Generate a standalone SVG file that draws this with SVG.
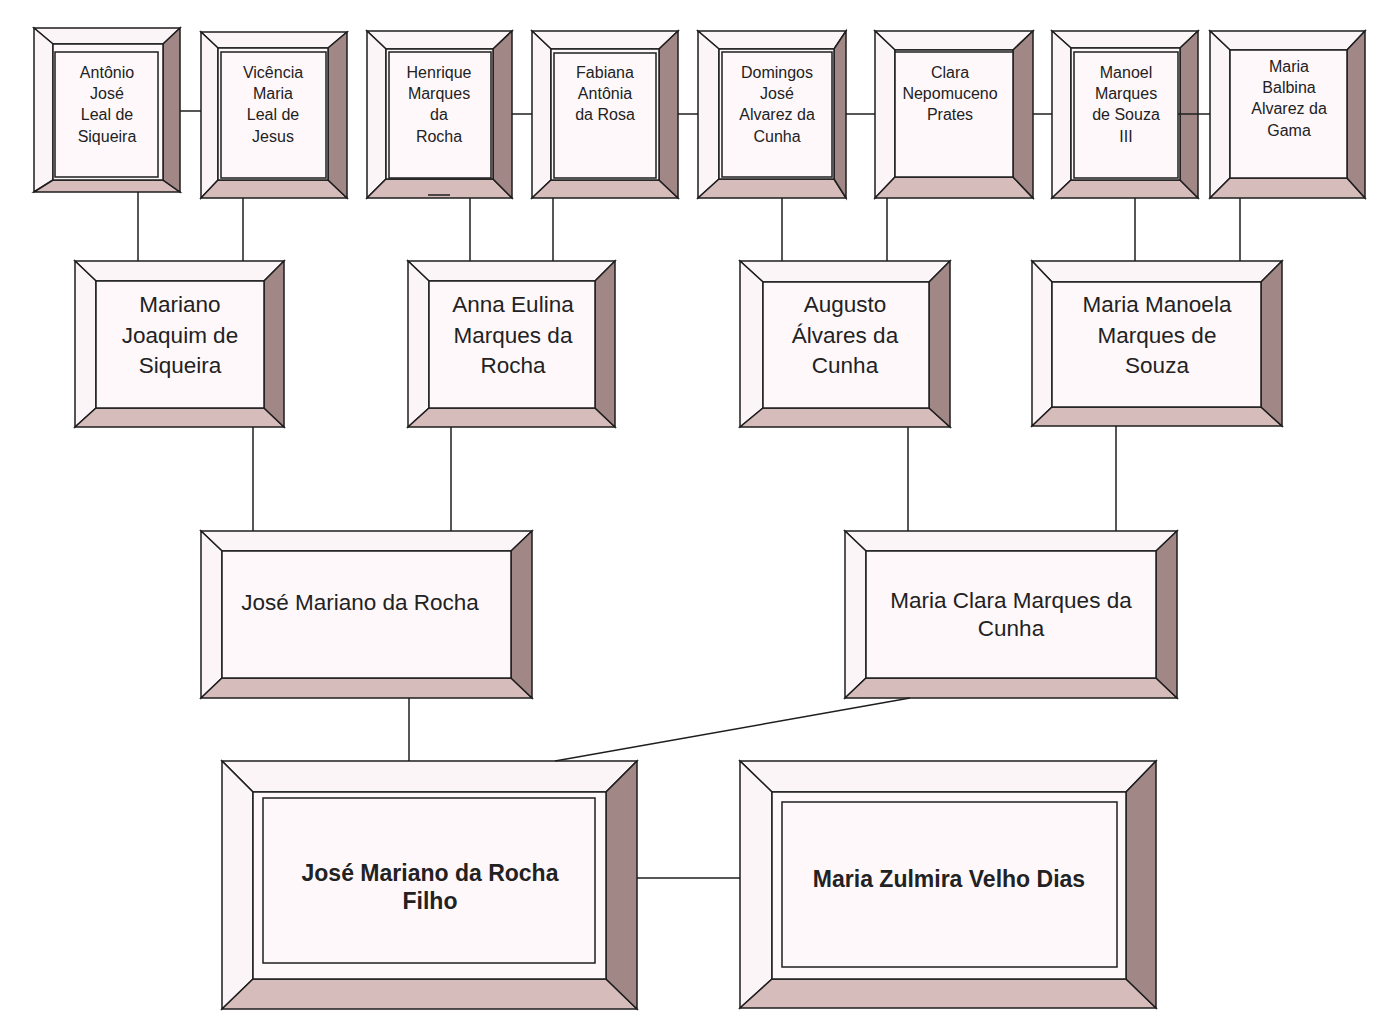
<svg xmlns="http://www.w3.org/2000/svg" width="1380" height="1034" viewBox="0 0 1380 1034">
<style>
.bt,.bl{fill:#fcf5f7;stroke:#1e1e1e;stroke-width:1.5;stroke-linejoin:miter}
.bb{fill:#d6bcba;stroke:#1e1e1e;stroke-width:1.5}
.br{fill:#a28787;stroke:#1e1e1e;stroke-width:1.5}
.face{fill:#fff8fb;stroke:#1e1e1e;stroke-width:1.5}
.inner{fill:none;stroke:#1e1e1e;stroke-width:1.5}
.c{stroke:#1e1e1e;stroke-width:1.5;fill:none}
text{font-family:"Liberation Sans",Arial,sans-serif;fill:#222;text-anchor:middle}
.s{font-size:16px}
.m{font-size:22.5px}
.b{font-size:23px;font-weight:bold}
</style>
<rect width="1380" height="1034" fill="#ffffff"/>

<g id="n-antonio">
<polygon class="bt" points="34,28 180,28 163,44 53,44"/>
<polygon class="bl" points="34,28 53,44 53,180 34,192"/>
<polygon class="bb" points="34,192 53,180 163,180 180,192"/>
<polygon class="br" points="180,28 180,192 163,180 163,44"/>
<rect class="face" x="53" y="44" width="110" height="136"/>
<rect class="inner" x="55" y="52" width="103" height="125"/>
<text class="s" x="107" y="78">Antônio</text>
<text class="s" x="107" y="99">José</text>
<text class="s" x="107" y="120">Leal de</text>
<text class="s" x="107" y="142">Siqueira</text>
</g>

<g id="n-vicencia">
<polygon class="bt" points="201,32 347,32 328,48 218,48"/>
<polygon class="bl" points="201,32 218,48 218,180 201,198"/>
<polygon class="bb" points="201,198 218,180 328,180 347,198"/>
<polygon class="br" points="347,32 347,198 328,180 328,48"/>
<rect class="face" x="218" y="48" width="110" height="132"/>
<rect class="inner" x="221" y="52" width="105" height="126"/>
<text class="s" x="273" y="78">Vicência</text>
<text class="s" x="273" y="99">Maria</text>
<text class="s" x="273" y="120">Leal de</text>
<text class="s" x="273" y="142">Jesus</text>
</g>

<g id="n-henrique">
<polygon class="bt" points="367,31 512,31 493,49 386,49"/>
<polygon class="bl" points="367,31 386,49 386,179 367,198"/>
<polygon class="bb" points="367,198 386,179 493,179 512,198"/>
<polygon class="br" points="512,31 512,198 493,179 493,49"/>
<rect class="face" x="386" y="49" width="107" height="130"/>
<rect class="inner" x="389" y="52" width="102" height="126"/>
<line class="c" x1="428" y1="195" x2="450" y2="195"/>
<text class="s" x="439" y="78">Henrique</text>
<text class="s" x="439" y="99">Marques</text>
<text class="s" x="439" y="120">da</text>
<text class="s" x="439" y="142">Rocha</text>
</g>

<g id="n-fabiana">
<polygon class="bt" points="532,31 678,31 659,49 551,49"/>
<polygon class="bl" points="532,31 551,49 551,180 532,198"/>
<polygon class="bb" points="532,198 551,180 659,180 678,198"/>
<polygon class="br" points="678,31 678,198 659,180 659,49"/>
<rect class="face" x="551" y="49" width="108" height="131"/>
<rect class="inner" x="554" y="53" width="102" height="125"/>
<text class="s" x="605" y="78">Fabiana</text>
<text class="s" x="605" y="99">Antônia</text>
<text class="s" x="605" y="120">da Rosa</text>
</g>

<g id="n-domingos">
<polygon class="bt" points="698,31 846,31 834,49 719,49"/>
<polygon class="bl" points="698,31 719,49 719,179 698,198"/>
<polygon class="bb" points="698,198 719,179 834,179 846,198"/>
<polygon class="br" points="846,31 846,198 834,179 834,49"/>
<rect class="face" x="719" y="49" width="115" height="130"/>
<rect class="inner" x="722" y="52" width="110" height="125"/>
<text class="s" x="777" y="78">Domingos</text>
<text class="s" x="777" y="99">José</text>
<text class="s" x="777" y="120">Alvarez da</text>
<text class="s" x="777" y="142">Cunha</text>
</g>

<g id="n-clara">
<polygon class="bt" points="875,31 1033,31 1013,50 895,50"/>
<polygon class="bl" points="875,31 895,50 895,177 875,198"/>
<polygon class="bb" points="875,198 895,177 1013,177 1033,198"/>
<polygon class="br" points="1033,31 1033,198 1013,177 1013,50"/>
<rect class="face" x="895" y="50" width="118" height="127"/>
<line class="c" x1="895" y1="52" x2="1013" y2="52"/>
<text class="s" x="950" y="78">Clara</text>
<text class="s" x="950" y="99">Nepomuceno</text>
<text class="s" x="950" y="120">Prates</text>
</g>

<g id="n-manoel">
<polygon class="bt" points="1052,31 1198,31 1180,48 1071,48"/>
<polygon class="bl" points="1052,31 1071,48 1071,180 1052,198"/>
<polygon class="bb" points="1052,198 1071,180 1180,180 1198,198"/>
<polygon class="br" points="1198,31 1198,198 1180,180 1180,48"/>
<rect class="face" x="1071" y="48" width="109" height="132"/>
<rect class="inner" x="1074" y="52" width="104" height="126"/>
<text class="s" x="1126" y="78">Manoel</text>
<text class="s" x="1126" y="99">Marques</text>
<text class="s" x="1126" y="120">de Souza</text>
<text class="s" x="1126" y="142">III</text>
</g>

<g id="n-balbina">
<polygon class="bt" points="1210,31 1365,31 1347,50 1230,50"/>
<polygon class="bl" points="1210,31 1230,50 1230,178 1210,198"/>
<polygon class="bb" points="1210,198 1230,178 1347,178 1365,198"/>
<polygon class="br" points="1365,31 1365,198 1347,178 1347,50"/>
<rect class="face" x="1230" y="50" width="117" height="128"/>
<text class="s" x="1289" y="72">Maria</text>
<text class="s" x="1289" y="93">Balbina</text>
<text class="s" x="1289" y="114">Alvarez da</text>
<text class="s" x="1289" y="136">Gama</text>
</g>

<g id="n-mariano">
<polygon class="bt" points="75,261 284,261 264,281 96,281"/>
<polygon class="bl" points="75,261 96,281 96,408 75,427"/>
<polygon class="bb" points="75,427 96,408 264,408 284,427"/>
<polygon class="br" points="284,261 284,427 264,408 264,281"/>
<rect class="face" x="96" y="281" width="168" height="127"/>
<text class="m" x="180" y="312">Mariano</text>
<text class="m" x="180" y="343">Joaquim de</text>
<text class="m" x="180" y="373">Siqueira</text>
</g>

<g id="n-anna">
<polygon class="bt" points="408,261 615,261 595,281 429,281"/>
<polygon class="bl" points="408,261 429,281 429,408 408,427"/>
<polygon class="bb" points="408,427 429,408 595,408 615,427"/>
<polygon class="br" points="615,261 615,427 595,408 595,281"/>
<rect class="face" x="429" y="281" width="166" height="127"/>
<text class="m" x="513" y="312">Anna Eulina</text>
<text class="m" x="513" y="343">Marques da</text>
<text class="m" x="513" y="373">Rocha</text>
</g>

<g id="n-augusto">
<polygon class="bt" points="740,261 950,261 929,282 763,282"/>
<polygon class="bl" points="740,261 763,282 763,408 740,427"/>
<polygon class="bb" points="740,427 763,408 929,408 950,427"/>
<polygon class="br" points="950,261 950,427 929,408 929,282"/>
<rect class="face" x="763" y="282" width="166" height="126"/>
<text class="m" x="845" y="312">Augusto</text>
<text class="m" x="845" y="343">Álvares da</text>
<text class="m" x="845" y="373">Cunha</text>
</g>

<g id="n-manoela">
<polygon class="bt" points="1032,261 1282,261 1261,282 1052,282"/>
<polygon class="bl" points="1032,261 1052,282 1052,407 1032,426"/>
<polygon class="bb" points="1032,426 1052,407 1261,407 1282,426"/>
<polygon class="br" points="1282,261 1282,426 1261,407 1261,282"/>
<rect class="face" x="1052" y="282" width="209" height="125"/>
<text class="m" x="1157" y="312">Maria Manoela</text>
<text class="m" x="1157" y="343">Marques de</text>
<text class="m" x="1157" y="373">Souza</text>
</g>

<g id="n-jose">
<polygon class="bt" points="201,531 532,531 511,551 222,551"/>
<polygon class="bl" points="201,531 222,551 222,678 201,698"/>
<polygon class="bb" points="201,698 222,678 511,678 532,698"/>
<polygon class="br" points="532,531 532,698 511,678 511,551"/>
<rect class="face" x="222" y="551" width="289" height="127"/>
<text class="m" x="360" y="610">José Mariano da Rocha</text>
</g>

<g id="n-mariaclara">
<polygon class="bt" points="845,531 1177,531 1156,551 866,551"/>
<polygon class="bl" points="845,531 866,551 866,678 845,698"/>
<polygon class="bb" points="845,698 866,678 1156,678 1177,698"/>
<polygon class="br" points="1177,531 1177,698 1156,678 1156,551"/>
<rect class="face" x="866" y="551" width="290" height="127"/>
<text class="m" x="1011" y="608">Maria Clara Marques da</text>
<text class="m" x="1011" y="636">Cunha</text>
</g>

<g id="n-filho">
<polygon class="bt" points="222,761 637,761 606,792 253,792"/>
<polygon class="bl" points="222,761 253,792 253,979 222,1009"/>
<polygon class="bb" points="222,1009 253,979 606,979 637,1009"/>
<polygon class="br" points="637,761 637,1009 606,979 606,792"/>
<rect class="face" x="253" y="792" width="353" height="187"/>
<rect class="inner" x="263" y="798" width="332" height="165"/>
<text class="b" x="430" y="881">José Mariano da Rocha</text>
<text class="b" x="430" y="909">Filho</text>
</g>

<g id="n-zulmira">
<polygon class="bt" points="740,761 1156,761 1126,792 772,792"/>
<polygon class="bl" points="740,761 772,792 772,979 740,1008"/>
<polygon class="bb" points="740,1008 772,979 1126,979 1156,1008"/>
<polygon class="br" points="1156,761 1156,1008 1126,979 1126,792"/>
<rect class="face" x="772" y="792" width="354" height="187"/>
<rect class="inner" x="782" y="802" width="335" height="165"/>
<text class="b" x="949" y="887">Maria Zulmira Velho Dias</text>
</g>

<g id="connectors">
<line class="c" x1="180" y1="111" x2="201" y2="111"/>
<line class="c" x1="512" y1="114" x2="532" y2="114"/>
<line class="c" x1="678" y1="114" x2="698" y2="114"/>
<line class="c" x1="846" y1="114" x2="875" y2="114"/>
<line class="c" x1="1033" y1="114" x2="1052" y2="114"/>
<line class="c" x1="1178" y1="114" x2="1210" y2="114"/>
<line class="c" x1="138" y1="192" x2="138" y2="261"/>
<line class="c" x1="243" y1="198" x2="243" y2="261"/>
<line class="c" x1="470" y1="198" x2="470" y2="261"/>
<line class="c" x1="553" y1="198" x2="553" y2="261"/>
<line class="c" x1="782" y1="198" x2="782" y2="261"/>
<line class="c" x1="887" y1="198" x2="887" y2="261"/>
<line class="c" x1="1135" y1="198" x2="1135" y2="261"/>
<line class="c" x1="1240" y1="198" x2="1240" y2="261"/>
<line class="c" x1="253" y1="427" x2="253" y2="531"/>
<line class="c" x1="451" y1="427" x2="451" y2="531"/>
<line class="c" x1="908" y1="427" x2="908" y2="531"/>
<line class="c" x1="1116" y1="426" x2="1116" y2="531"/>
<line class="c" x1="409" y1="698" x2="409" y2="761"/>
<line class="c" x1="910" y1="698" x2="555" y2="761"/>
<line class="c" x1="637" y1="878" x2="740" y2="878"/>
</g>
</svg>
